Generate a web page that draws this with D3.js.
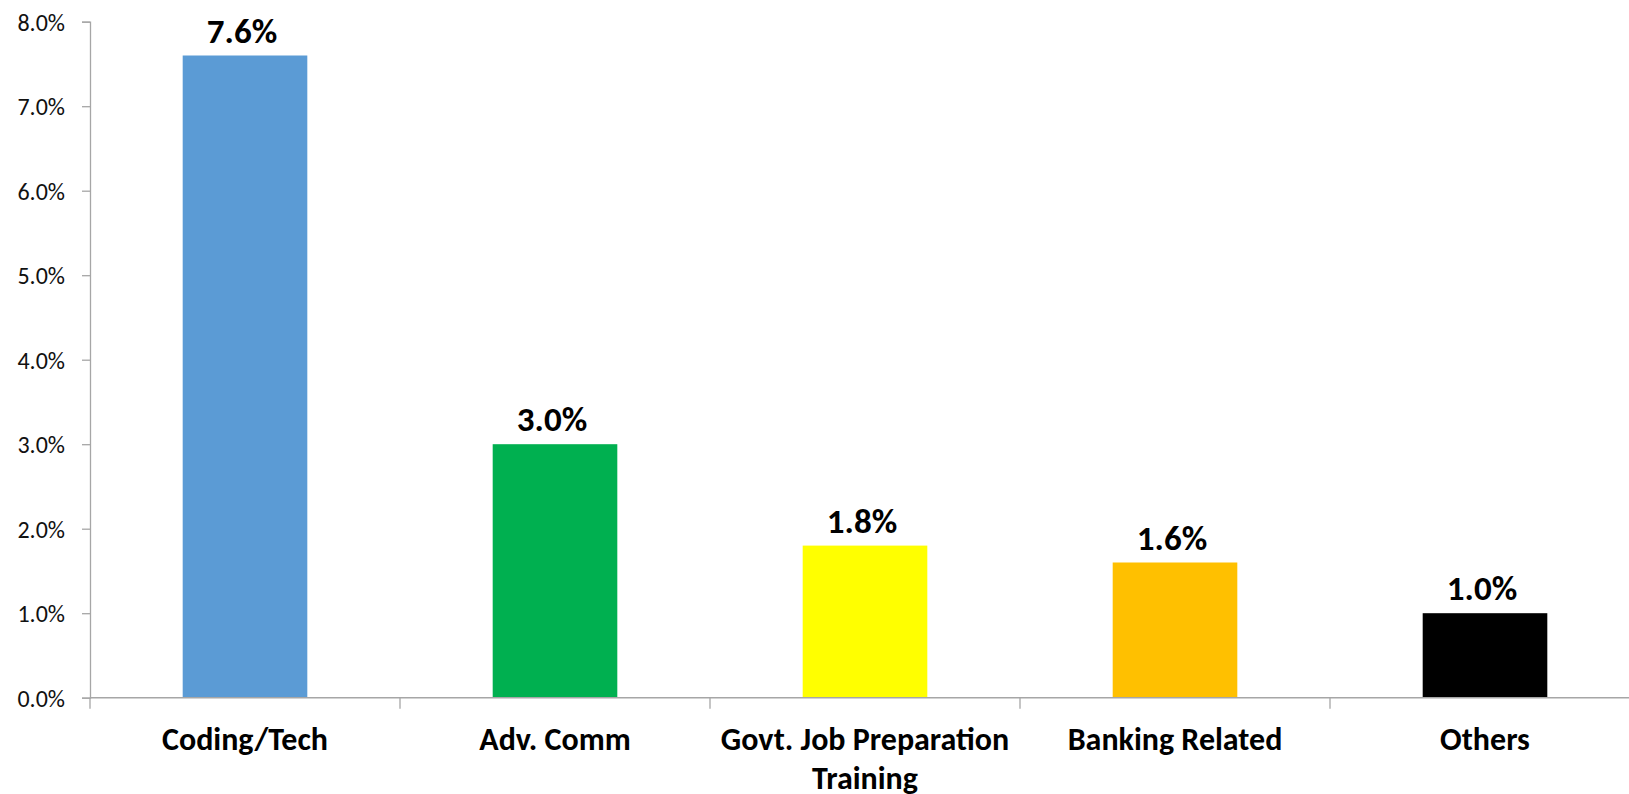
<!DOCTYPE html>
<html>
<head>
<meta charset="utf-8">
<script src="https://cdn.jsdelivr.net/npm/d3@7/dist/d3.min.js"></script>
<style>
  html, body { margin: 0; padding: 0; background: #fff; overflow: hidden; }
  svg { display: block; }
  text { font-family: Calibri, Carlito, Lato, "Open Sans", sans-serif; }
</style>
</head>
<body>
<svg id="chart" width="1629" height="794"></svg>
<script>
// Share of respondents by training type
const categories = ["Coding/Tech", "Adv. Comm", "Govt. Job Preparation Training", "Banking Related", "Others"];
const values = [7.6, 3.0, 1.8, 1.6, 1.0];
const barColors = ["#5B9BD5", "#00B050", "#FFFF00", "#FFC000", "#000000"];
const yTicks = [0, 1, 2, 3, 4, 5, 6, 7, 8];

const svg = d3.select("#chart");
const axisColor = "#A6A6A6";

// plot area (the category band extends slightly past the right edge of the view)
const x0 = 90, x1 = 1640, yBase = 697.7, yTop = 21.7;

const x = d3.scaleBand().domain(categories).range([x0, x1]).paddingInner(0.598).paddingOuter(0.299);
const y = d3.scaleLinear().domain([0, 8]).range([yBase, yTop]);

// bars
svg.append("g").selectAll("rect")
  .data(categories)
  .join("rect")
  .attr("x", d => x(d))
  .attr("width", x.bandwidth())
  .attr("y", (d, i) => y(values[i]))
  .attr("height", (d, i) => yBase - y(values[i]))
  .attr("fill", (d, i) => barColors[i]);

// value axis
const yAxis = svg.append("g")
  .attr("transform", `translate(${x0},0)`)
  .call(d3.axisLeft(y).tickValues(yTicks).tickSize(8).tickPadding(17)
    .tickFormat(d => d.toFixed(1) + "%"));
yAxis.select(".domain").attr("stroke", axisColor).attr("stroke-width", 1.3);
yAxis.selectAll(".tick line").attr("stroke", axisColor).attr("stroke-width", 1.3);
yAxis.selectAll(".tick text")
  .attr("fill", "#111")
  .style("font-size", "24px")
  .attr("dy", "0.36em");

// category axis: baseline plus ticks at band boundaries
const xAxisG = svg.append("g");
xAxisG.append("line")
  .attr("x1", x0).attr("x2", x1)
  .attr("y1", yBase).attr("y2", yBase)
  .attr("stroke", axisColor).attr("stroke-width", 1.6);
const step = x.step();
const boundaries = d3.range(categories.length).map(i => x(categories[i]) - x.paddingOuter() * step);
xAxisG.selectAll("line.tick")
  .data(boundaries)
  .join("line")
  .attr("class", "tick")
  .attr("x1", d => d).attr("x2", d => d)
  .attr("y1", yBase).attr("y2", yBase + 11)
  .attr("stroke", axisColor).attr("stroke-width", 1.3);

// category labels, wrapped to the band width
const catLabels = svg.append("g").selectAll("text")
  .data(categories)
  .join("text")
  .attr("text-anchor", "middle")
  .attr("font-weight", "bold")
  .style("font-size", "32px")
  .attr("fill", "#000");

catLabels.each(function(d) {
  const t = d3.select(this);
  const cx = x(d) + x.bandwidth() / 2;
  const words = d.split(" ");
  const maxW = step - 4;
  let lines = [];
  let line = [];
  const probe = t.append("tspan");
  words.forEach(w => {
    const trial = line.concat([w]).join(" ");
    probe.text(trial);
    if (probe.node().getComputedTextLength() > maxW && line.length) {
      lines.push(line.join(" "));
      line = [w];
    } else {
      line.push(w);
    }
  });
  lines.push(line.join(" "));
  probe.remove();
  lines.forEach((l, k) => {
    t.append("tspan")
      .attr("x", cx)
      .attr("y", yBase + 52 + k * 39)
      .text(l);
  });
});

// value labels above the bars
svg.append("g").selectAll("text")
  .data(categories)
  .join("text")
  .attr("x", d => x(d) + x.bandwidth() / 2 - 3)
  .attr("y", (d, i) => y(values[i]) - 13)
  .attr("text-anchor", "middle")
  .attr("font-weight", "bold")
  .style("font-size", "35px")
  .attr("fill", "#000")
  .text((d, i) => values[i].toFixed(1) + "%");
</script>
</body>
</html>
